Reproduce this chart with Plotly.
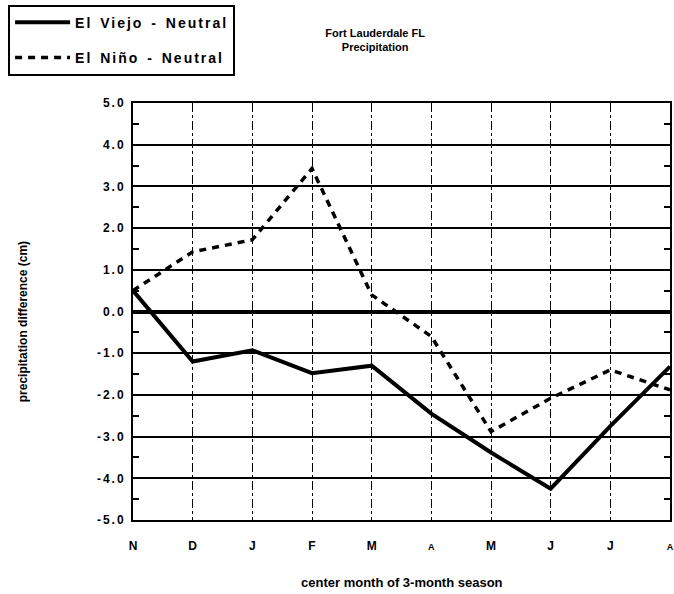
import plotly.graph_objects as go

months = ["N", "D", "J", "F", "M", "A", "M", "J", "J", "A"]
el_viejo = [0.5, -1.2, -0.93, -1.48, -1.3, -2.45, -3.38, -4.25, -2.75, -1.32]
el_nino = [0.5, 1.43, 1.72, 3.43, 0.4, -0.6, -2.88, -2.08, -1.4, -1.88]
series_names = ["El Viejo - Neutral", "El Niño - Neutral"]
y_ticks = [-5, -4, -3, -2, -1, 0, 1, 2, 3, 4, 5]
y_ticktext = ["-5.0", "-4.0", "-3.0", "-2.0", "-1.0", "0.0", "1.0", "2.0", "3.0", "4.0", "5.0"]
y_minor = [-4.5, -3.5, -2.5, -1.5, -0.5, 0.5, 1.5, 2.5, 3.5, 4.5]

xpos = list(range(len(months)))
xtext = [("<span style='font-size:9px'>A</span>" if m == "A" else m) for m in months]
SP = "<span style='letter-spacing:2px;word-spacing:2px'>{}</span>"
ytext = ["<span style='letter-spacing:2px'>{}</span>".format(t) for t in y_ticktext]

FONT = "Liberation Sans, Arial, sans-serif"

fig = go.Figure()
fig.add_trace(go.Scatter(
    x=xpos, y=el_viejo, mode="lines", name=SP.format(series_names[0]),
    line=dict(color="black", width=4), legendgroup="a"))
fig.add_trace(go.Scatter(
    x=xpos, y=el_nino, mode="lines", name=SP.format(series_names[1]),
    line=dict(color="black", width=3.5, dash="7px,6px"), legendgroup="b"))

fig.update_layout(
    width=674, height=594,
    margin=dict(l=133, r=4, t=103, b=74, autoexpand=False),
    paper_bgcolor="white", plot_bgcolor="white",
    font=dict(family=FONT, color="black", size=12),
    title=dict(text="Fort Lauderdale FL<br>Precipitation", x=0.451, xref="paper",
               xanchor="center", y=0.938, yanchor="middle",
               font=dict(size=11, family=FONT, color="black", weight="bold")),
    legend=dict(xref="container", yref="container", x=0.012, y=0.992,
                xanchor="left", yanchor="top", bordercolor="black", borderwidth=2,
                bgcolor="white", tracegroupgap=14, itemwidth=55,
                font=dict(size=14, family=FONT, weight="bold", color="black")),
    showlegend=True,
)
fig.update_xaxes(
    range=[0, 9], tickmode="array", tickvals=xpos, ticktext=xtext,
    showgrid=True, gridcolor="black", gridwidth=1, griddash="dashdot",
    showline=True, linecolor="black", linewidth=2, mirror=True,
    zeroline=False, ticks="", ticklabelstandoff=14,
    tickfont=dict(size=12, family=FONT, weight="bold", color="black"),
)
fig.update_yaxes(
    range=[-5, 5], tickmode="array", tickvals=y_ticks, ticktext=ytext,
    showgrid=True, gridcolor="black", gridwidth=2,
    showline=True, linecolor="black", linewidth=2, mirror="allticks",
    zeroline=True, zerolinecolor="black", zerolinewidth=4,
    ticks="", ticklabelstandoff=3,
    minor=dict(tickvals=y_minor, ticks="inside", ticklen=6, tickcolor="black",
               tickwidth=2, showgrid=False),
    tickfont=dict(size=12, family=FONT, weight="bold", color="black"),
)
fig.add_annotation(text="precipitation difference (cm)", xref="paper", yref="paper",
                   x=-0.222, y=0.476, textangle=-90, showarrow=False,
                   font=dict(size=12, family=FONT, weight="bold", color="black"))
fig.add_annotation(text="center month of 3-month season", xref="paper", yref="paper",
                   x=0.5, y=-0.151, yanchor="middle", showarrow=False,
                   font=dict(size=13, family=FONT, weight="bold", color="black"))

fig.write_html("out.html", config={"displayModeBar": False},
               post_script="document.body.style.margin='0px';")
